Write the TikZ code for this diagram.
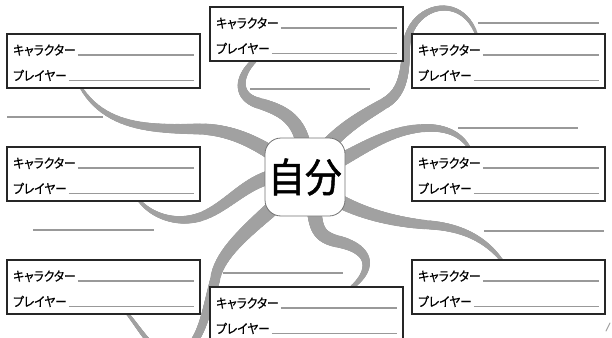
\documentclass[tikz,border=0pt]{standalone}
\usepackage{fontspec}
\usetikzlibrary{calc}
\usetikzlibrary{positioning}
\usetikzlibrary{backgrounds}
\newfontfamily\jpFont[RawFeature=+palt, FakeStretch=0.9, FakeBold=0.5]{Noto Sans CJK JP}
\newfontfamily\bigJpFont[FakeStretch=0.92, FakeBold=1.2]{Noto Sans CJK JP}
\newcommand{\branchColor}{black!37}
\newcommand{\blankColor}{black!40}
\newcommand{\frameColor}{black!85}
\newcommand{\drawBranch}[6]{
	\foreach \i in {1,...,24}{
		\pgfmathsetmacro{\s}{\i/24}
		\pgfmathsetmacro{\w}{#5+(#6-#5)*\s}
		\coordinate (q1) at ($(#1)!\s!(#2)$);
		\coordinate (m) at ($(#2)!\s!(#3)$);
		\coordinate (r) at ($(#3)!\s!(#4)$);
		\coordinate (q2) at ($(q1)!\s!(m)$);
		\coordinate (r2) at ($(m)!\s!(r)$);
		\coordinate (q3) at ($(q2)!\s!(r2)$);
		\draw[branch, line width=\w pt] (#1) .. controls (q1) and (q2) .. (q3);
	}
}
\newcommand{\charBox}[3]{
	\node[charFrame] (#1) at (#2,#3) {};
	\node[boxLabel] (#1Chara) at ($(#1.north west)+(6,21)$) {キャラクター};
	\node[boxLabel] (#1Player) at ($(#1.north west)+(6,46.5)$) {プレイヤー};
	\draw[blank] ($(#1Chara.base east)+(2,0)$) -- ($(#1.north east)+(-6,21)$);
	\draw[blank] ($(#1Player.base east)+(2,0)$) -- ($(#1.north east)+(-6,46.5)$);
}
\tikzset{branch/.style = {\branchColor, line cap=round}}
\tikzset{blank/.style = {\blankColor, line width=1.1pt}}
\tikzset{charFrame/.style = {draw=\frameColor, fill=white, line width=1.4pt,
	minimum width=193pt, minimum height=54pt, inner sep=0pt, outer sep=0pt, anchor=north west}}
\tikzset{boxLabel/.style = {anchor=base west, inner sep=0pt, font=\jpFont\fontsize{13}{15}\selectfont}}
\tikzset{centerBox/.style = {draw=black!55, fill=white, line width=0.8pt, rounded corners=16pt,
	minimum width=80pt, minimum height=78pt, inner sep=0pt, font=\bigJpFont\fontsize{40}{44}\selectfont}}

\begin{document}
\begin{tikzpicture}[x=1pt, y=-1pt]
	\useasboundingbox (0,0) rectangle (612,337);
	\clip (0,0) rectangle (612,337);

	\node[centerBox] (me) at (305,177) {自分};

	\charBox{tl}{7}{34}
	\charBox{tc}{210}{7}
	\charBox{tr}{412}{34}
	\charBox{ml}{7}{147}
	\charBox{mr}{412}{147}
	\charBox{bl}{7}{260}
	\charBox{bc}{210}{287}
	\charBox{br}{412}{260}

	% where the branches end
	\coordinate (tlTip) at ($(tl.south west)+(73,-2)$);
	\coordinate (tcTip) at ($(tc.south west)+(46,-2)$);
	\coordinate (trTip) at ($(tr.north west)+(65,2)$);
	\coordinate (mrTip) at ($(mr.north west)+(58,2)$);
	\coordinate (brTip) at ($(br.north west)+(91,2)$);
	\coordinate (bcTip) at ($(bc.north west)+(140,2)$);
	\coordinate (blTip) at ($(bl.south west)+(119,-2)$);
	\coordinate (mlTip) at ($(ml.south west)+(131,-2)$);

	\begin{pgfonlayer}{background}
		\begin{scope}
			\clip (0,0) rectangle (612,337);
			\drawBranch{me.center}{270,150}{240,130}{200,129}{16}{11}
			\drawBranch{200,129}{150,129}{105,128}{tlTip}{11}{3}

			\drawBranch{me.center}{308,125}{290,112}{258,103}{16}{11}
			\drawBranch{258,103}{235,96}{238,75}{tcTip}{11}{5}

			\drawBranch{me.center}{328,135}{360,118}{385,103}{16}{11}
			\drawBranch{385,103}{402,93}{405,75}{406,50}{11}{8}
			\drawBranch{406,50}{407,5}{462,-10}{trTip}{8}{3}

			\drawBranch{me.center}{350,160}{380,130}{425,128}{16}{8}
			\drawBranch{425,128}{447,127}{462,135}{mrTip}{8}{3}

			\drawBranch{me.center}{340,210}{390,222}{430,225}{16}{9}
			\drawBranch{430,225}{470,228}{490,245}{brTip}{9}{3}

			\drawBranch{me.center}{322,215}{305,235}{340,242}{16}{12}
			\drawBranch{340,242}{372,250}{374,270}{bcTip}{12}{4}

			\drawBranch{me.center}{270,215}{220,245}{215,280}{17}{10}
			\drawBranch{215,280}{205,315}{200,355}{170,354}{10}{6}
			\drawBranch{170,354}{152,353}{140,328}{blTip}{6}{3}

			\drawBranch{me.center}{255,165}{235,205}{200,217}{16}{9}
			\drawBranch{200,217}{175,225}{150,215}{mlTip}{9}{3}

			\draw[branch, line width=1pt] (606,331) -- (610,323);
		\end{scope}
	\end{pgfonlayer}

	% blank lines to write on
	\foreach \a/\b/\y in {7/103/117, 250/370/89, 478/599/23, 458/578/128,
			33/154/230, 223/343/273, 484/604/231}
		\draw[blank] (\a,\y) -- (\b,\y);
\end{tikzpicture}
\end{document}
